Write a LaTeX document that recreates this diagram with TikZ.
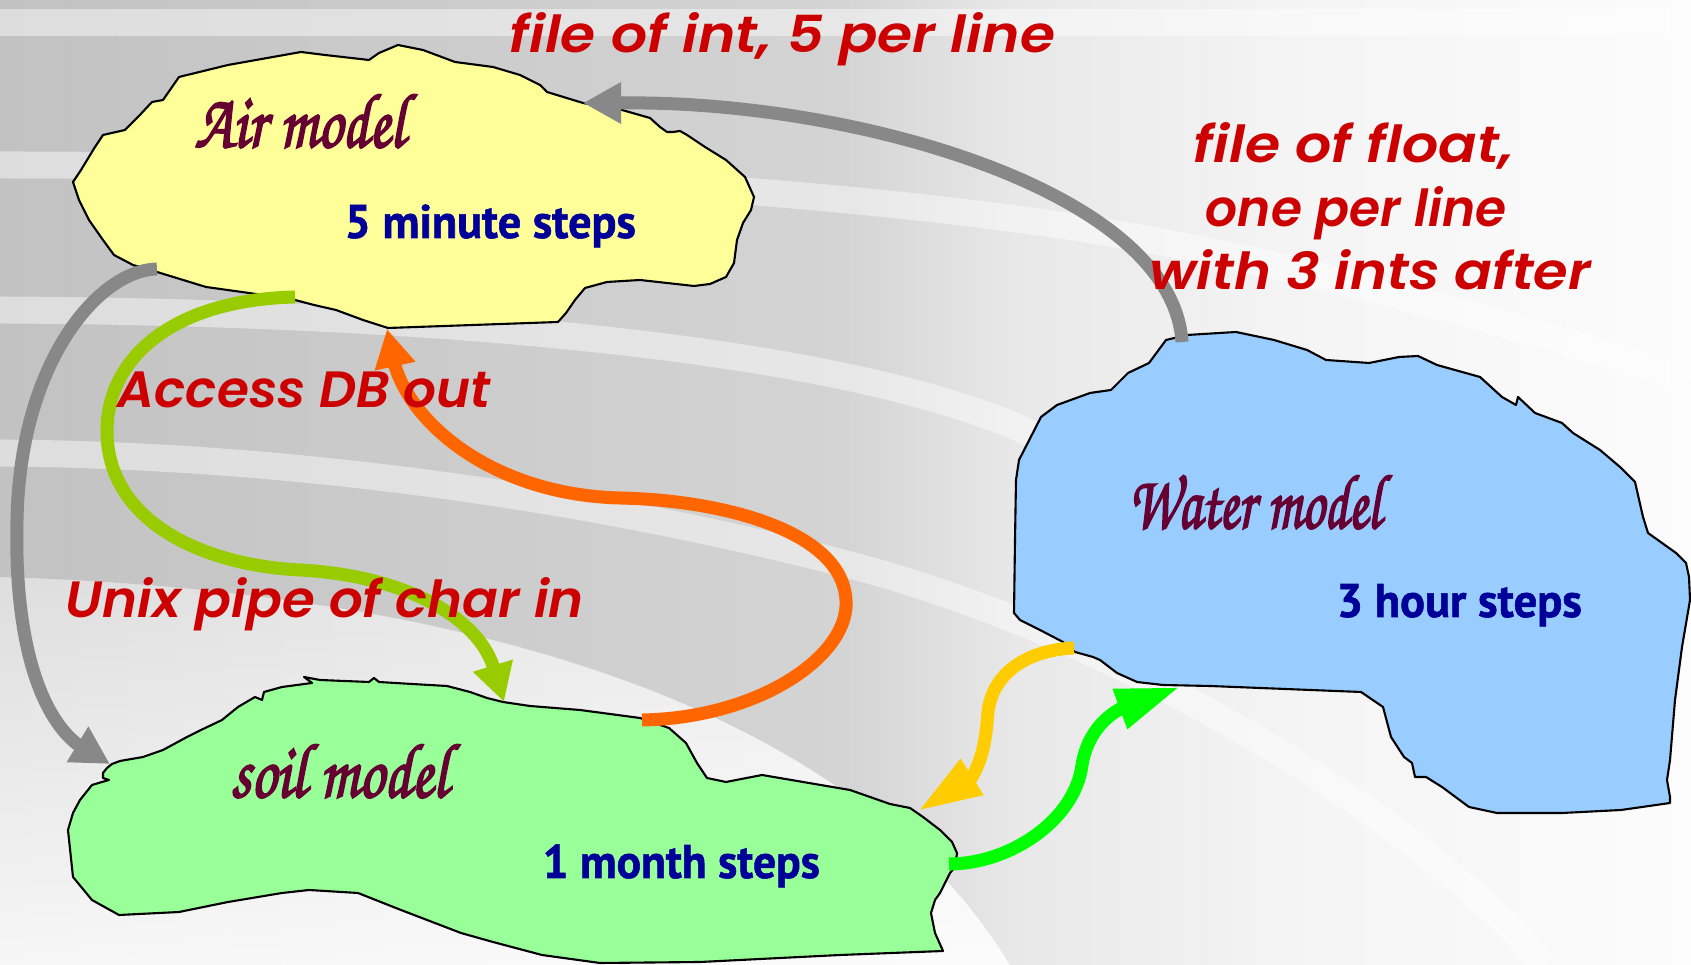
\documentclass[tikz,border=0pt]{standalone}
\usepackage{fontspec}
\usepackage{graphicx}
\usetikzlibrary{arrows.meta,fadings}

\newfontfamily\labelfont{Poppins SemiBold Italic}
\newfontfamily\stepfont{PT Sans}[FakeBold=1.2]
\newfontfamily\handfont{texgyrechorus-mediumitalic.otf}[FakeBold=2.6]

% fills and inks
\definecolor{airfill}{HTML}{FFFF99}
\definecolor{soilfill}{HTML}{99FF99}
\definecolor{waterfill}{HTML}{99CCFF}
\definecolor{labelred}{HTML}{CC0000}
\definecolor{stepblue}{HTML}{000099}
\definecolor{namemaroon}{HTML}{660033}
\definecolor{arrowgray}{HTML}{888888}
\definecolor{arroworange}{HTML}{FF6600}
\definecolor{arrowlime}{HTML}{99CC00}
\definecolor{arrowgold}{HTML}{FFCC00}
\definecolor{arrowgreen}{HTML}{00FF00}
% backdrop greys
\definecolor{bgA}{HTML}{C2C2C2}
\definecolor{bgB}{HTML}{D4D4D4}
\definecolor{bgC}{HTML}{E8E8E8}
\definecolor{bgD}{HTML}{F4F4F4}
\definecolor{bgE}{HTML}{FCFCFC}
\definecolor{bgpale}{HTML}{DEDEDE}

\pgfdeclarehorizontalshading{greyfield}{100bp}{color(0bp)=(bgA); color(25bp)=(bgA);
  color(50bp)=(bgB); color(55bp)=(bgC); color(63bp)=(bgD); color(75bp)=(bgE); color(100bp)=(bgE)}

% squeeze or stretch a label to a given width, keeping its height
\newcommand\fitw[2]{\resizebox{#1}{\height}{#2}}

\tikzset{
  blob/.style={draw=black, line width=0.6pt, line join=round},
  flow/.style={line width=0.13cm},
  headS/.style={-{Triangle[length=0.38cm,width=0.39cm]}},
  headL/.style={-{Triangle[length=0.64cm,width=0.39cm]}},
  band/.style={draw=white, draw opacity=0.45, line width=0.27cm},
  flowtext/.style={inner sep=0pt, anchor=base west, text=labelred,
    font=\labelfont\fontsize{14.5}{17}\selectfont},
  nametext/.style={inner sep=0pt, anchor=base west, text=namemaroon,
    font=\handfont\fontsize{22}{26}\selectfont},
  steptext/.style={inner sep=0pt, anchor=base west, text=stepblue,
    font=\stepfont\bfseries\fontsize{13.4}{16}\selectfont},
}

\begin{document}
\begin{tikzpicture}[x=0.01cm,y=-0.01cm]
\useasboundingbox (0,0) rectangle (1691,965);

% ---- backdrop: pale lower field, grey upper field, light sweeping bands
\shade[left color=bgpale,right color=white] (0,0) rectangle (1691,965);
\fill[white,fill opacity=0.75,path fading=north] (0,577) rectangle (1691,965);
\shade[shading=greyfield] (0,0) -- (1691,0) -- (1691,965) -- (1010,965)
  .. controls (850,700) and (450,590) .. (0,577) -- cycle;
\draw[band] (0,23) -- (1691,23);
\draw[band] (0,165) .. controls (450,165) and (850,190) .. (1111,233)
  .. controls (1300,265) and (1500,320) .. (1691,380);
\draw[band] (0,310) .. controls (450,312) and (850,350) .. (1030,433)
  .. controls (1200,510) and (1400,620) .. (1691,800);
\draw[band] (0,453) .. controls (300,455) and (600,500) .. (850,565)
  .. controls (1100,630) and (1400,800) .. (1545,965);

% ---- the three model blobs
\draw[blob, fill=airfill] (73,182) -- (81,170) -- (95,147) -- (103,135) -- (125,130)
  -- (138,117) -- (152,102) -- (163,100) -- (179,77) -- (228,65) -- (301,52) -- (325,55)
  -- (369,60) -- (379,53) -- (398,45) -- (423,50) -- (455,62) -- (493,67) -- (520,75)
  -- (540,85) -- (547,92) -- (583,103) -- (622,110) -- (650,118) -- (660,127) -- (667,132)
  -- (673,132) -- (680,131) -- (687,135) -- (705,147) -- (726,160) -- (745,177) -- (754,197)
  -- (751,210) -- (743,223) -- (737,240) -- (734,263) -- (726,277) -- (710,284) -- (694,286)
  -- (667,283) -- (640,280) -- (607,282) -- (585,288) -- (575,300) -- (566,313) -- (558,322)
  -- (388,328) -- (363,320) -- (336,310) -- (314,305) -- (295,300) -- (249,293) -- (206,287)
  -- (157,272) -- (133,265) -- (114,255) -- (103,240) -- (89,220) -- (79,200) -- cycle;

\draw[blob, fill=soilfill] (68,830) -- (73,813) -- (80,800) -- (92,785) -- (102,782)
  -- (109,780) -- (103,778) -- (103,773) -- (107,768) -- (112,764) -- (120,761) -- (143,757)
  -- (163,750) -- (187,737) -- (201,730) -- (222,720) -- (238,707) -- (255,697) -- (262,700)
  -- (264,692) -- (282,687) -- (312,683) -- (304,677) -- (320,680) -- (369,682) -- (374,678)
  -- (379,682) -- (412,684) -- (447,686) -- (470,692) -- (487,698) -- (503,702) -- (530,706)
  -- (580,710) -- (640,718) -- (669,728) -- (686,743) -- (697,763) -- (707,778) -- (726,782)
  -- (762,775) -- (850,790) -- (890,804) -- (910,808) -- (923,817) -- (940,830) -- (952,842)
  -- (957,853) -- (955,867) -- (950,873) -- (940,893) -- (935,900) -- (931,913) -- (935,933)
  -- (943,951) -- (840,955) -- (700,962) -- (600,963) -- (542,955) -- (493,942) -- (461,933)
  -- (401,910) -- (358,893) -- (309,890) -- (282,893) -- (228,902) -- (179,912) -- (119,915)
  -- (92,900) -- (73,877) -- cycle;

\draw[blob, fill=waterfill] (1166,340) -- (1187,335) -- (1236,332) -- (1274,340) -- (1307,350)
  -- (1326,360) -- (1369,363) -- (1399,357) -- (1418,356) -- (1437,365) -- (1480,377)
  -- (1502,397) -- (1516,405) -- (1518,397) -- (1535,413) -- (1562,423) -- (1573,433)
  -- (1600,450) -- (1620,467) -- (1635,482) -- (1643,517) -- (1648,533) -- (1676,553)
  -- (1686,563) -- (1689,577) -- (1690,600) -- (1682,647) -- (1675,700) -- (1670,760)
  -- (1667,780) -- (1670,797) -- (1670,803) -- (1621,810) -- (1562,813) -- (1497,813)
  -- (1469,807) -- (1442,787) -- (1426,777) -- (1415,777) -- (1412,763) -- (1404,757)
  -- (1391,737) -- (1383,707) -- (1361,692) -- (1210,686) -- (1163,685) -- (1137,682)
  -- (1117,673) -- (1100,660) -- (1093,657) -- (1075,652) -- (1063,642) -- (1040,630)
  -- (1020,620) -- (1014,613) -- (1015,540) -- (1016,480) -- (1019,460) -- (1041,417)
  -- (1057,405) -- (1090,393) -- (1111,390) -- (1128,373) -- (1149,363) -- cycle;

% ---- connector end points on the blobs
\coordinate (waterTop) at (1182,342);
\coordinate (airEast) at (583,103);
\coordinate (airWest) at (157,269);
\coordinate (soilWest) at (110,764);
\coordinate (airFoot) at (295,297);
\coordinate (soilCrest) at (504,702);
\coordinate (soilRise) at (642,720);
\coordinate (airBase) at (387,329);
\coordinate (waterFoot) at (1074,648);
\coordinate (soilShoulder) at (918,811);
\coordinate (soilEast) at (949,864);
\coordinate (waterBay) at (1180,687);

% ---- data flows
\draw[flow, arrowgray, headS] (waterTop) .. controls (1172,190) and (850,100) .. (622,103) -- (airEast);
\draw[flow, arrowgray, headS] (airWest) .. controls (100,270) and (20,360) .. (17,520)
  .. controls (14,640) and (40,715) .. (77,744) -- (soilWest);
\draw[flow, arrowlime, headS] (airFoot) .. controls (170,300) and (107,360) .. (107,431)
  .. controls (107,520) and (200,565) .. (300,570)
  .. controls (410,576) and (478,620) .. (493,666) -- (soilCrest);
\draw[flow, arroworange, headS] (soilRise) .. controls (760,718) and (850,655) .. (846,600)
  .. controls (842,530) and (720,500) .. (620,498)
  .. controls (500,495) and (415,430) .. (395,366) -- (airBase);
\draw[flow, arrowgold, headL] (waterFoot) .. controls (1025,650) and (992,675) .. (988,712)
  .. controls (986,740) and (982,760) .. (972,777) -- (soilShoulder);
\draw[flow, arrowgreen, headL] (soilEast) .. controls (1010,864) and (1075,820) .. (1082,765)
  .. controls (1086,740) and (1100,720) .. (1120,709) -- (waterBay);

% ---- flow labels
\node[flowtext] (intLabel) at (509,53) {\fitw{5.45cm}{file of int, 5 per line}};
\node[flowtext] (floatLabelA) at (1193,163) {\fitw{3.2cm}{file of float,}};
\node[flowtext] (floatLabelB) at (1205,227) {\fitw{3.01cm}{one per line}};
\node[flowtext] (floatLabelC) at (1149,290) {\fitw{4.41cm}{with 3 ints after}};
\node[flowtext] (dbLabel) at (117,408) {\fitw{3.73cm}{Access DB out}};
\node[flowtext] (pipeLabel) at (65,618) {\fitw{5.18cm}{Unix pipe of char in}};

% ---- model names and time steps
\node[nametext] (airName) at (194,147) {\fitw{2.1cm}{Air model}};
\node[steptext] (airStep) at (344,238) {\fitw{2.91cm}{5 minute steps}};
\node[nametext] (soilName) at (230,797) {\fitw{2.17cm}{soil model}};
\node[steptext] (soilStep) at (542,878) {\fitw{2.77cm}{1 month steps}};
\node[nametext] (waterName) at (1128,528) {\fitw{2.52cm}{Water model}};
\node[steptext] (waterStep) at (1336,617) {\fitw{2.45cm}{3 hour steps}};
\end{tikzpicture}
\end{document}
